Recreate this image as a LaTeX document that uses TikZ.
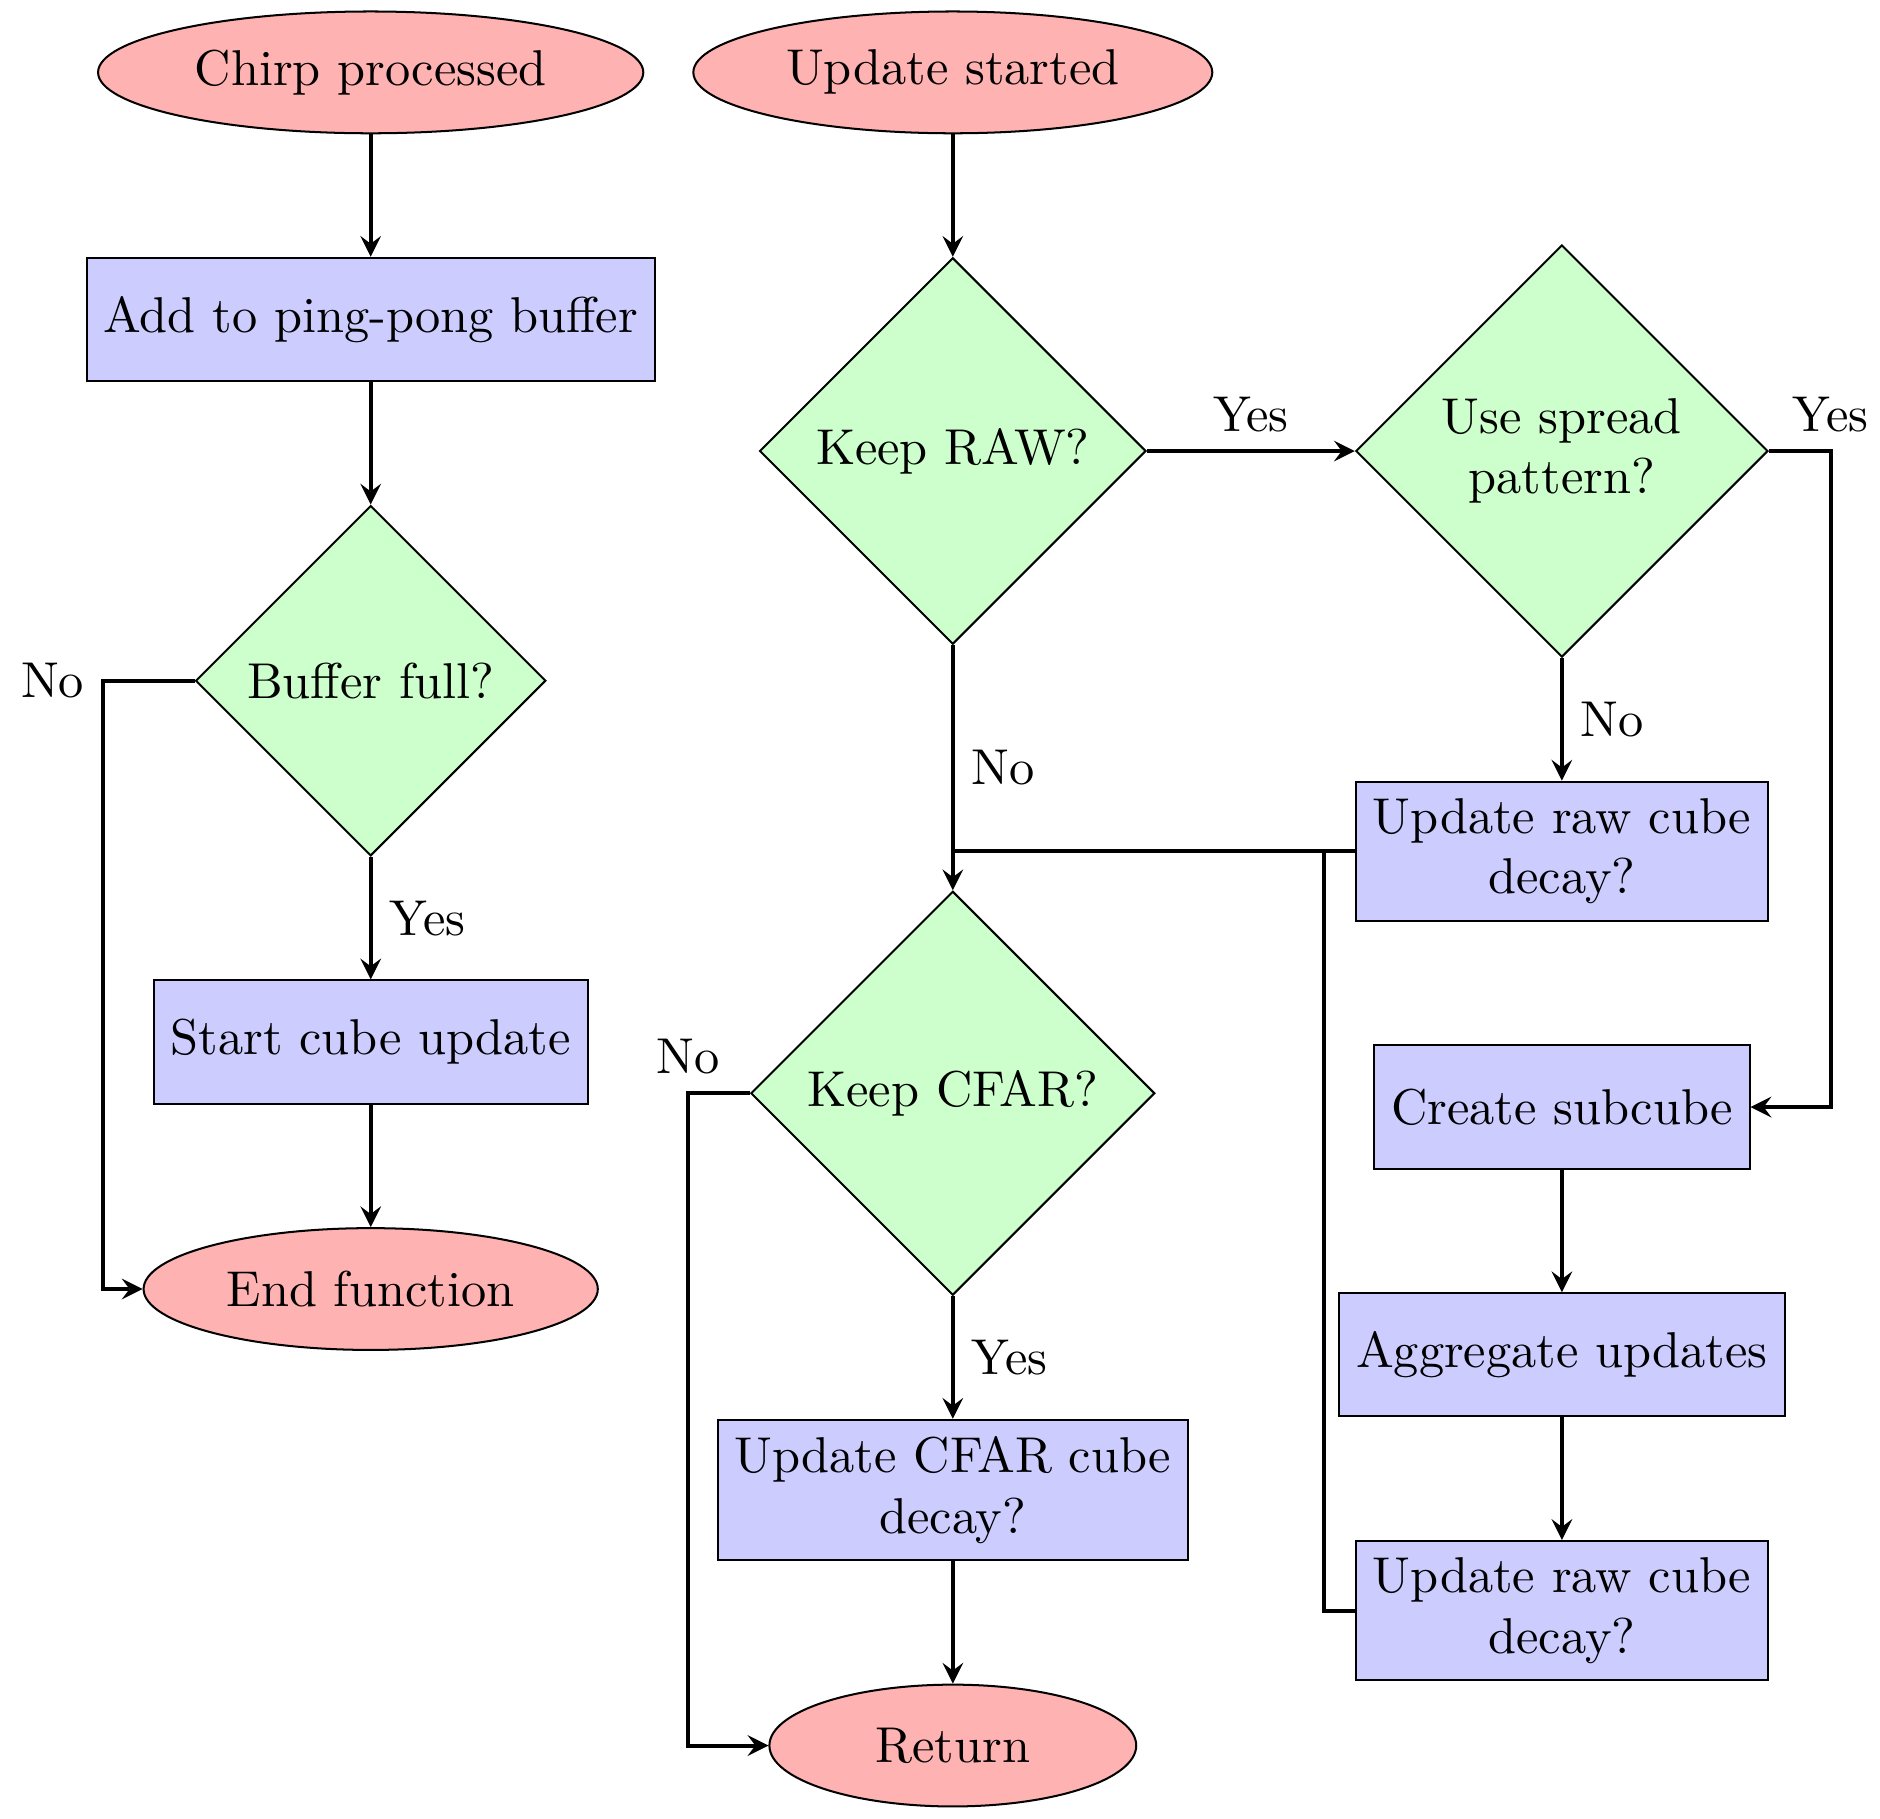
\documentclass[tikz,border=0pt]{standalone}
\usepackage{amsmath}
\usetikzlibrary{shapes.geometric, arrows, positioning}

\begin{document}
\begin{tikzpicture}[align=center, node distance=0.855cm,
	startstop/.style = {draw, ellipse, fill = red!30, minimum height = 0.85cm, minimum width = 2.56cm},
	process/.style = {draw, rectangle, fill = blue!20, minimum height = 0.86cm},
	decision/.style = {draw, diamond, fill = green!20},
	arrow/.style = {thick, ->, >=stealth},
	line/.style = {thick}]
	\useasboundingbox (0,0) rectangle (13.12,-12.69);
	% chirp side
	\node[startstop] (chirp) at (2.587,-0.505) {Chirp processed};
	\node[process] (addbuf) [below = of chirp] {Add to ping-pong buffer};
	\node[decision] (buffull) [below = of addbuf] {Buffer full?};
	\node[process] (startupd) [below = of buffull] {Start cube update};
	\node[startstop] (endfn) [below = of startupd] {End function};
	% update side
	\node[startstop] (started) [right = 0.335cm of chirp] {Update started};
	\node[decision] (keepraw) [below = of started] {Keep RAW?};
	\node[decision] (spread) [right = 1.45cm of keepraw] {Use spread\\pattern?};
	\node[process] (updraw1) [below = of spread] {Update raw cube\\decay?};
	\node[process] (subcube) [below = of updraw1] {Create subcube};
	\node[process] (aggr) [below = of subcube] {Aggregate updates};
	\node[process] (updraw2) [below = of aggr] {Update raw cube\\decay?};
	\node[decision] (keepcfar) [below = 1.71cm of keepraw] {Keep CFAR?};
	\node[process] (updcfar) [below = of keepcfar] {Update CFAR cube\\decay?};
	\node[startstop] (ret) [below = of updcfar] {Return};
	\coordinate (merge) at (updraw1.west -| keepraw.south);

	\draw[arrow] (chirp) -- (addbuf);
	\draw[arrow] (addbuf) -- (buffull);
	\draw[arrow] (buffull) -- node[right] {Yes} (startupd);
	\draw[arrow] (startupd) -- (endfn);
	\draw[arrow] (buffull.west) -- ++(-0.64,0) node[left] {No} |- (endfn);

	\draw[arrow] (started) -- (keepraw);
	\draw[arrow] (keepraw) -- node[above] {Yes} (spread);
	\draw[arrow] (keepraw) -- node[right] {No} (keepcfar);
	\draw[arrow] (spread) -- node[right] {No} (updraw1);
	\draw[arrow] (spread.east) -- ++(0.43,0) node[above] {Yes} |- (subcube);
	\draw[arrow] (subcube) -- (aggr);
	\draw[arrow] (aggr) -- (updraw2);
	\draw[line] (updraw1.west) -- (merge);
	\draw[line] (updraw2.west) -- ++(-0.22,0) |- (updraw1.west);
	\draw[arrow] (keepcfar) -- node[right] {Yes} (updcfar);
	\draw[arrow] (updcfar) -- (ret);
	\draw[arrow] (keepcfar.west) -- ++(-0.43,0) node[above] {No} |- (ret);
\end{tikzpicture}
\end{document}
